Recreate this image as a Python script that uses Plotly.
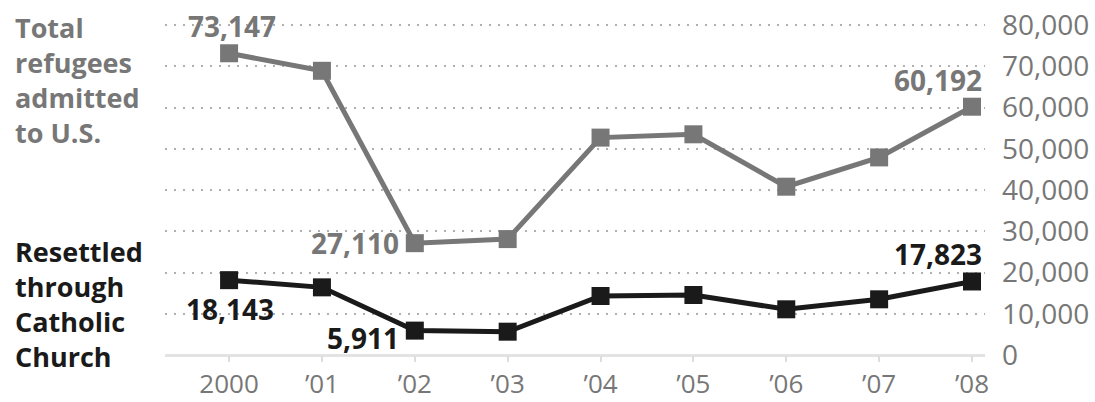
import plotly.graph_objects as go

years = ["2000", "\u201901", "\u201902", "\u201903", "\u201904", "\u201905", "\u201906", "\u201907", "\u201908"]
total_refugees = [73147, 68900, 27110, 28100, 52700, 53500, 40800, 47900, 60192]
catholic_resettled = [18143, 16400, 5911, 5650, 14300, 14550, 11080, 13500, 17823]
y_ticks = [0, 10000, 20000, 30000, 40000, 50000, 60000, 70000, 80000]
y_tick_labels = ["0", "10,000", "20,000", "30,000", "40,000", "50,000", "60,000", "70,000", "80,000"]

GREY = "#777777"
BLACK = "#1a1a1a"
FONT = "Open Sans"

fig = go.Figure()
fig.add_trace(go.Scatter(
    x=years, y=total_refugees, mode="lines+markers",
    line=dict(color=GREY, width=5),
    marker=dict(symbol="square", size=18, color=GREY),
    cliponaxis=False, showlegend=False, hoverinfo="skip"))
fig.add_trace(go.Scatter(
    x=years, y=catholic_resettled, mode="lines+markers",
    line=dict(color=BLACK, width=5),
    marker=dict(symbol="square", size=18, color=BLACK),
    cliponaxis=False, showlegend=False, hoverinfo="skip"))

def fmt(v):
    return f"{v:,}"

ann = []
lab_font_g = dict(family=FONT, size=28, color=GREY)
lab_font_b = dict(family=FONT, size=28, color=BLACK)

def label(i, series, font, **kw):
    d = dict(x=i, y=series[i], text="<b>" + fmt(series[i]) + "</b>", font=font, showarrow=False)
    d.update(kw)
    return d

ann.append(label(0, total_refugees, lab_font_g, xanchor="center", yanchor="bottom", yshift=6, xshift=3))
ann.append(label(2, total_refugees, lab_font_g, xanchor="right", yanchor="middle", xshift=-14, yshift=0))
ann.append(label(8, total_refugees, lab_font_g, xanchor="right", yanchor="bottom", yshift=6, xshift=12))
ann.append(label(0, catholic_resettled, lab_font_b, xanchor="center", yanchor="top", yshift=-8, xshift=1))
ann.append(label(2, catholic_resettled, lab_font_b, xanchor="right", yanchor="top", yshift=14, xshift=-14))
ann.append(label(8, catholic_resettled, lab_font_b, xanchor="right", yanchor="bottom", yshift=6, xshift=12))

# series titles
ann.append(dict(xref="paper", yref="paper", x=-0.1854, y=0.8136, xanchor="left", yanchor="middle",
                align="left", showarrow=False, font=dict(family=FONT, size=27, color=GREY),
                text="<b>Total<br>refugees<br>admitted<br>to U.S.</b>"))
ann.append(dict(xref="paper", yref="paper", x=-0.1854, y=0.152, xanchor="left", yanchor="middle",
                align="left", showarrow=False, font=dict(family=FONT, size=27, color=BLACK),
                text="<b>Resettled<br>through<br>Catholic<br>Church</b>"))

fig.update_layout(
    width=1095, height=402,
    margin=dict(l=165, r=110, t=17, b=47),
    paper_bgcolor="white", plot_bgcolor="white",
    annotations=ann,
    font=dict(family=FONT),
)
fig.update_xaxes(
    type="category", range=[-0.69, 8.14], automargin=False,
    showgrid=False, zeroline=False, showline=False,
    ticks="outside", ticklen=6, tickcolor="#dddddd", tickwidth=2,
    ticklabelstandoff=0,
    tickfont=dict(family=FONT, size=26, color=GREY),
)
fig.update_yaxes(
    range=[0, 81940], side="right", automargin=False,
    tickvals=y_ticks, ticktext=y_tick_labels,
    showgrid=True, gridcolor="#b0b0b0", gridwidth=2, griddash="2px,7px",
    zeroline=True, zerolinecolor="#e3e3e3", zerolinewidth=3,
    showline=False, ticks="", ticklabelstandoff=16,
    tickfont=dict(family=FONT, size=28, color=GREY),
)

fig.write_html("out.html")
